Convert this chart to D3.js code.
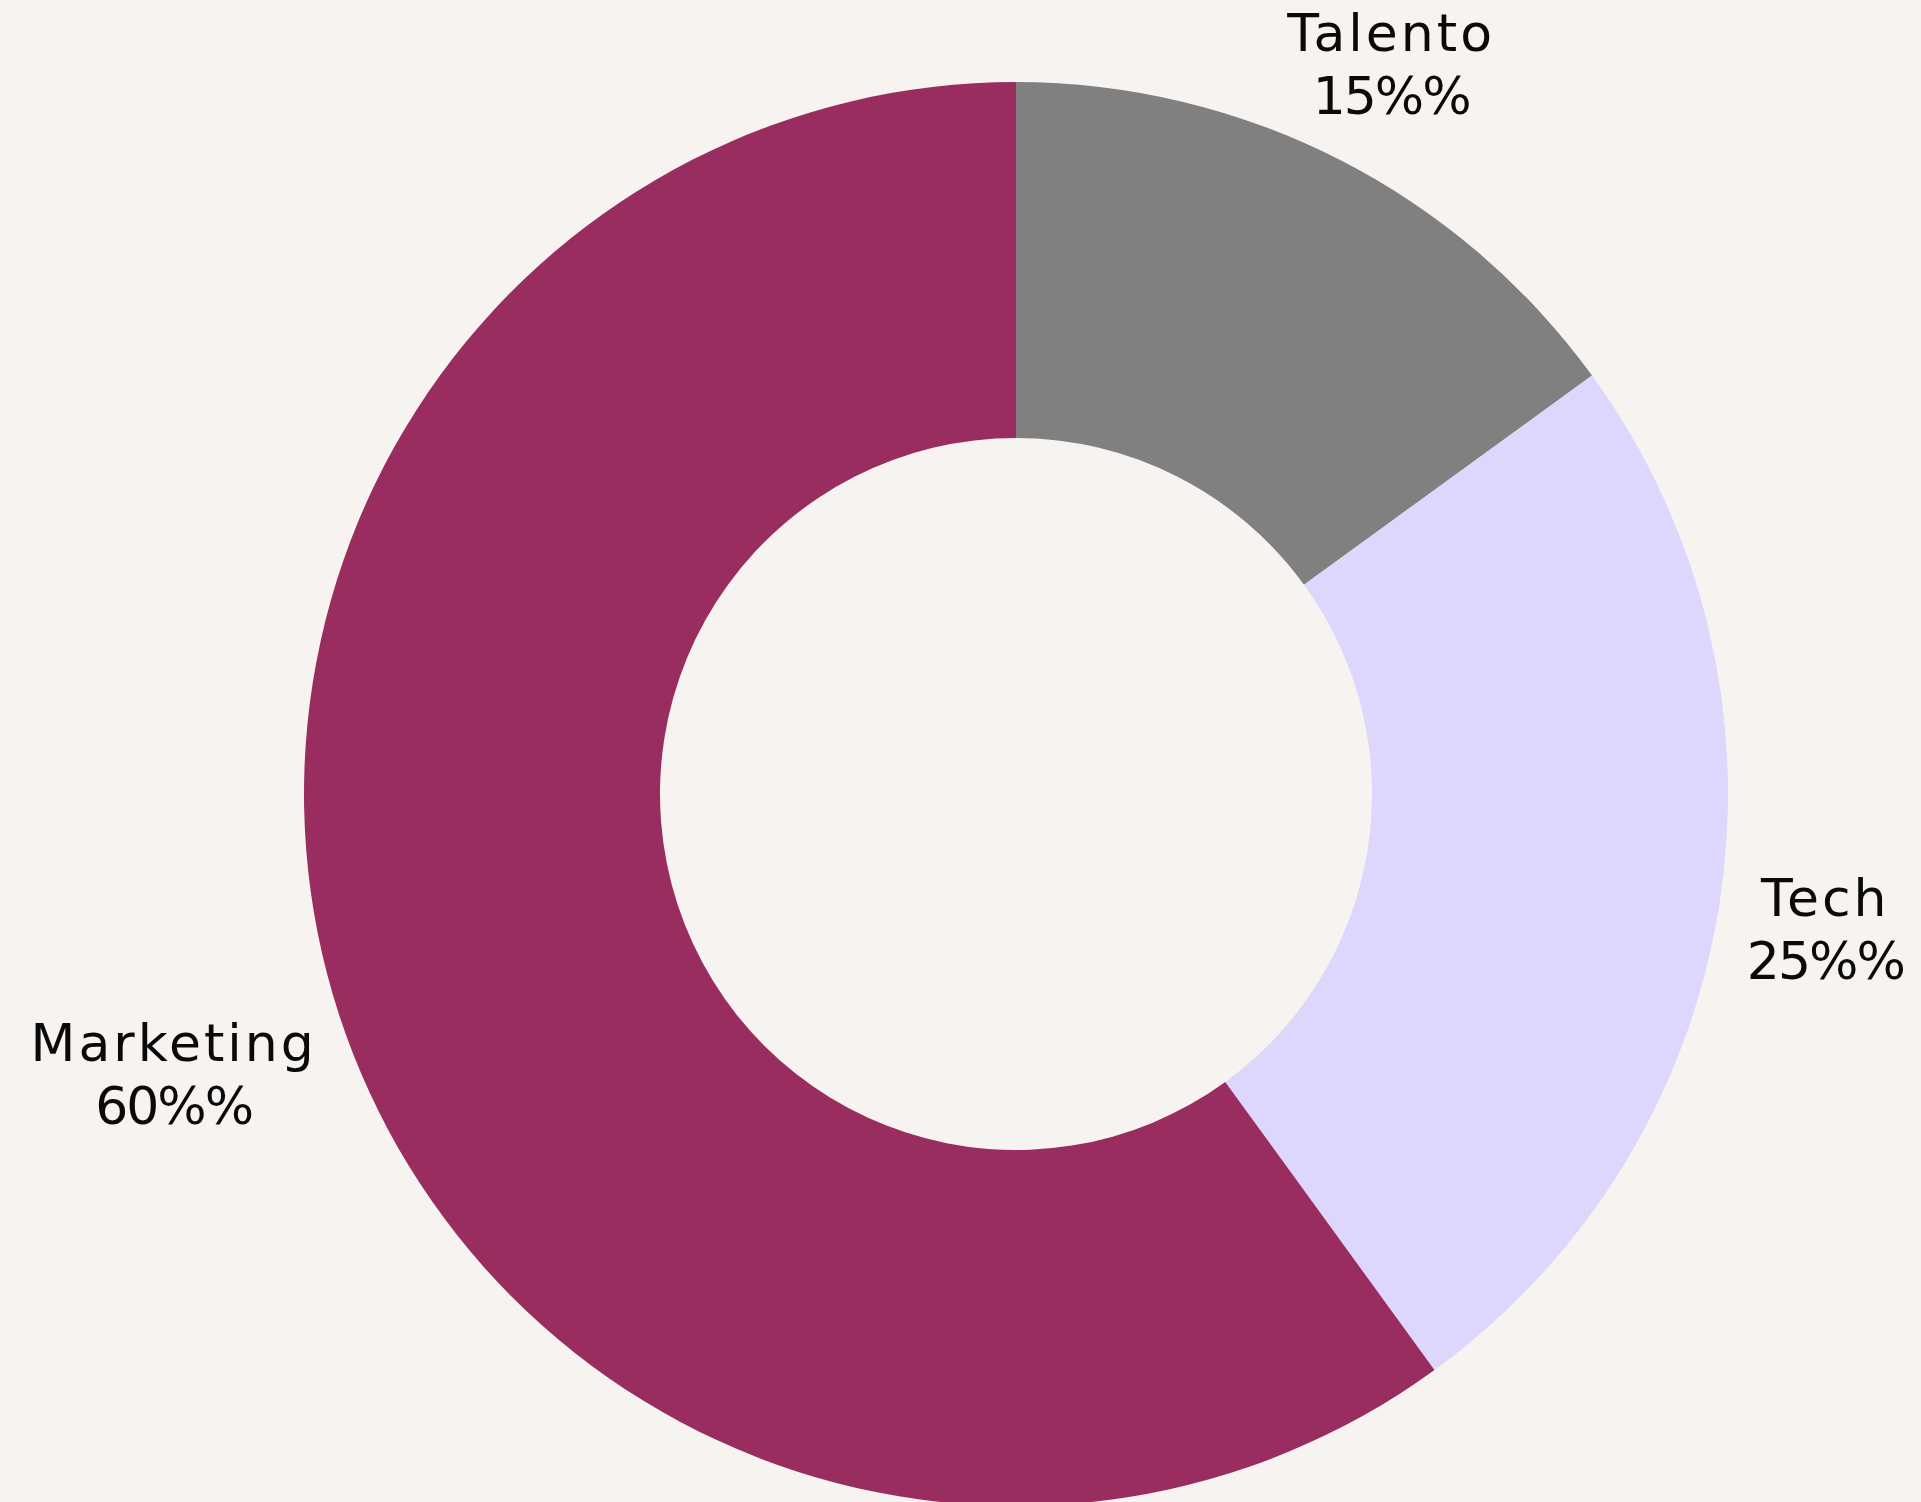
<!DOCTYPE html>
<html>
<head>
<meta charset="utf-8">
<script src="https://cdn.jsdelivr.net/npm/d3@7"></script>
<style>
    body { margin: 0; background: #f6f3f0; }
    text { font-family: "DejaVu Sans", sans-serif; fill: #0a0a0a; }
    .cat { letter-spacing: 3px; }
    .pct { letter-spacing: -2px; }
</style>
</head>
<body>
<div id="chart"></div>
<script>
// slices, clockwise from the top
var categories = ["Talento", "Tech", "Marketing"];
var values = [15, 25, 60];
var labels = ["15%%", "25%%", "60%%"];
var colors = ["#808080", "#ddd7fd", "#9a2d5f"];

window.onload = function() {
    donut();
};

function donut() {
    var width = 1921;
    var height = 1502;
    var cx = 1016;
    var cy = 794;
    var radius = 712;
    var labelGap = 734;   // label box is pushed out until it clears this radius
    var fontSize = 52;
    var capH = fontSize * 0.73;
    var lineGap = 63;

    var svg = d3.select("#chart")
                .append("svg")
                .attr("width", width)
                .attr("height", height)
                .style("display", "block");

    svg.append("rect")
       .attr("width", width)
       .attr("height", height)
       .attr("fill", "#f6f3f0");

    var g = svg.append("g")
               .attr("transform", "translate(" + cx + "," + cy + ")");

    var pie = d3.pie()
                .value(function(d) { return d; })
                .sort(null);

    var arc = d3.arc()
                .innerRadius(radius * 0.5)
                .outerRadius(radius);

    var arcs = pie(values);

    g.selectAll("path")
     .data(arcs)
     .enter()
     .append("path")
     .attr("d", arc)
     .attr("fill", function(d, i) { return colors[i]; });

    var lab = g.selectAll(".label")
               .data(arcs)
               .enter()
               .append("g")
               .attr("class", "label");

    lab.append("text")
       .attr("class", "cat")
       .attr("text-anchor", "middle")
       .attr("font-size", fontSize)
       .attr("y", 0)
       .text(function(d, i) { return categories[i]; });

    lab.append("text")
       .attr("class", "pct")
       .attr("text-anchor", "middle")
       .attr("font-size", fontSize)
       .attr("y", lineGap)
       .text(function(d, i) { return labels[i]; });

    lab.attr("transform", function(d) {
        var a = (d.startAngle + d.endAngle) / 2;
        var s = Math.sin(a), c = Math.cos(a);
        var w = this.getBBox().width;
        var h = lineGap + capH;
        // distance of box centre along the mid angle
        var dist = labelGap + Math.abs(s) * w / 2 + Math.abs(c) * h / 2;
        var mx = dist * s;
        var my = -dist * c;
        var ty = my - h / 2 + capH + 6;
        return "translate(" + mx + "," + ty + ")";
    });
}
</script>
</body>
</html>
